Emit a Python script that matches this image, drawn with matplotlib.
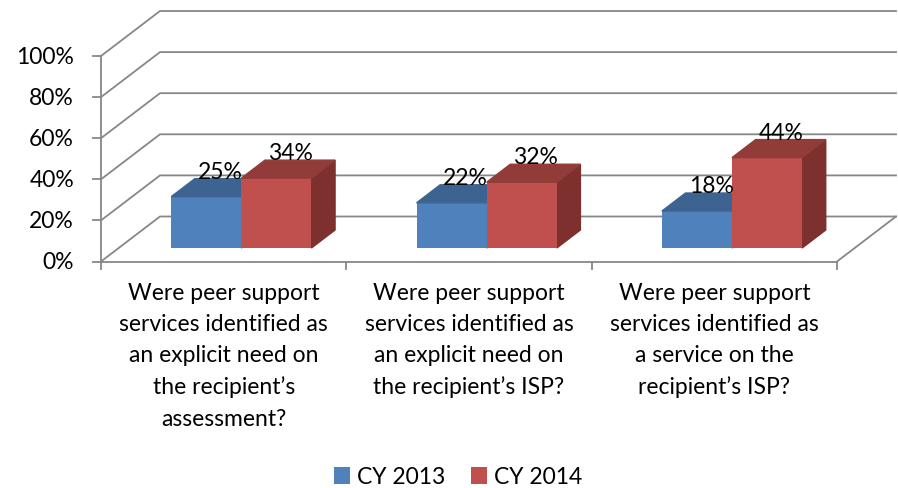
import numpy as np
import matplotlib.pyplot as plt
from matplotlib.patches import Polygon, Patch

categories = [
    "Were peer support\nservices identified as\nan explicit need on\nthe recipient\u2019s\nassessment?",
    "Were peer support\nservices identified as\nan explicit need on\nthe recipient\u2019s ISP?",
    "Were peer support\nservices identified as\na service on the\nrecipient\u2019s ISP?",
]
series_names = ["CY 2013", "CY 2014"]
cy2013 = [25, 22, 18]
cy2014 = [34, 32, 44]
yticks = [0, 20, 40, 60, 80, 100]

face_cols = ["#4F81BD", "#C0504D"]
top_cols = ["#3D6491", "#923C3A"]
side_cols = ["#34567D", "#7D302E"]
grid_col = "#878787"

plt.rcParams["font.family"] = ["Lato", "DejaVu Sans"]
FS = 16.5

W, H = 898, 489
fig = plt.figure(figsize=(W / 100, H / 100), dpi=100)
x0, x1, y0, y1 = 101, 837, 262.5, 57
ax = fig.add_axes([x0 / W, 1 - y0 / H, (x1 - x0) / W, (y0 - y1) / H])
ax.set_xlim(0, 3)
ax.set_ylim(0, 100)
ax.axis("off")

# pixel -> data scale factors
sx = 3 / (x1 - x0)
sy = 100 / (y0 - y1)

# depth of the floor / walls
DX, DY = 59 * sx, 45 * sy

# walls and gridlines
for t in yticks:
    ax.plot([0, DX, 3 + DX], [t, t + DY, t + DY], color=grid_col, lw=1.3,
            clip_on=False, zorder=1, solid_joinstyle="miter")
ax.plot([3, 3 + DX], [0, DY], color=grid_col, lw=1.3, clip_on=False, zorder=1)

# front axes with ticks
ax.plot([0, 0], [0, 100], color=grid_col, lw=1.3, clip_on=False, zorder=1)
ax.plot([0, 3], [0, 0], color=grid_col, lw=1.3, clip_on=False, zorder=1)
for t in yticks:
    ax.plot([-8 * sx, 0], [t, t], color=grid_col, lw=1.3, clip_on=False)
    ax.text(-27 * sx, t, f"{t}%", ha="right", va="center", fontsize=FS)
for i in range(4):
    ax.plot([i, i], [0, -7 * sy], color=grid_col, lw=1.3, clip_on=False)

# 3D bars: front face sits 30% into the depth, bars are 40% deep
bw = 1 / 3.5
f0, fd = 0.3, 0.4
bdx, bdy = fd * DX, fd * DY
for s, vals in enumerate([cy2013, cy2014]):
    for i, v in enumerate(vals):
        left = i + 0.5 - bw + s * bw + f0 * DX
        base = f0 * DY
        ax.bar(left, v, width=bw, bottom=base, align="edge",
               color=face_cols[s], zorder=3 + s * 3, clip_on=False)
        top = base + v
        ax.add_patch(Polygon([(left, top), (left + bdx, top + bdy),
                              (left + bw + bdx, top + bdy), (left + bw, top)],
                             closed=True, color=top_cols[s], zorder=4 + s * 3,
                             clip_on=False))
        ax.add_patch(Polygon([(left + bw, base), (left + bw + bdx, base + bdy),
                              (left + bw + bdx, top + bdy), (left + bw, top)],
                             closed=True, color=side_cols[s], zorder=2 + s * 3,
                             clip_on=False))
        ax.text(left + bw / 2 + bdx * 0.6, top + bdy - 3 * sy, f"{v}%",
                ha="center", va="bottom", fontsize=FS, zorder=10)

# category labels
for i, lab in enumerate(categories):
    ax.text(i + 0.5, -20 * sy, lab, ha="center", va="top", fontsize=FS,
            linespacing=1.6)

handles = [Patch(facecolor=c, edgecolor="none") for c in face_cols]
fig.legend(handles, series_names, loc="center", bbox_to_anchor=(458 / W, 1 - 478 / H),
           ncol=2, frameon=False, fontsize=FS, handlelength=0.7, handleheight=0.7,
           handletextpad=0.3, columnspacing=1.15)

fig.savefig("out.png", dpi=100)
